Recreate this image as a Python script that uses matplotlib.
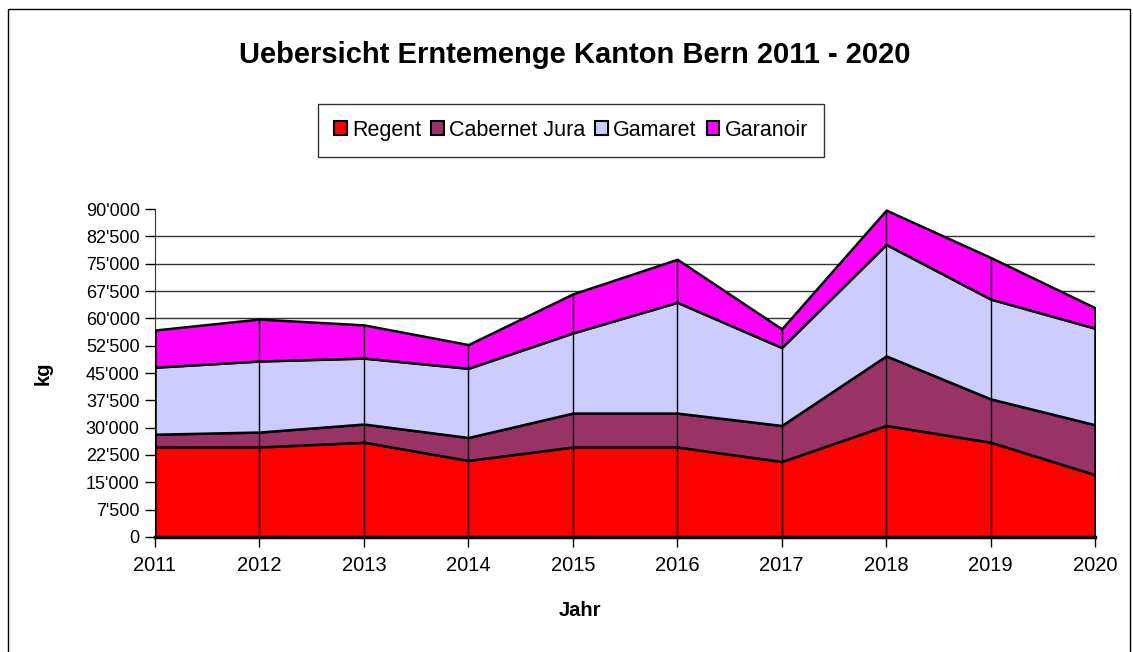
import matplotlib
matplotlib.use("Agg")
import matplotlib.pyplot as plt
import matplotlib.ticker as mticker
from matplotlib.patches import Rectangle

plt.rcParams["font.family"] = ["Liberation Sans", "DejaVu Sans"]

years = [2011, 2012, 2013, 2014, 2015, 2016, 2017, 2018, 2019, 2020]
regent = [24700, 24700, 26000, 21000, 24700, 24700, 20700, 30600, 26000, 17100]
cabernet_jura = [3500, 4100, 5000, 6300, 9300, 9300, 9900, 19100, 11900, 13700]
gamaret = [18400, 19500, 18100, 19000, 22000, 30400, 21400, 30600, 27400, 26500]
garanoir = [10200, 11500, 9100, 6500, 10700, 11800, 5100, 9400, 11400, 5600]

labels = ["Regent", "Cabernet Jura", "Gamaret", "Garanoir"]
colors = ["#FF0000", "#993366", "#CCCCFF", "#FF00FF"]
yticks = list(range(0, 90001, 7500))

fig = plt.figure(figsize=(11.33, 6.52), dpi=100)
ax = fig.add_axes([0.1368, 0.1764, 0.8297, 0.503])

# gridlines behind the areas (none at the very top)
for y in yticks[1:-1]:
    ax.axhline(y, color="#333333", lw=1, zorder=0)

polys = ax.stackplot(years, regent, cabernet_jura, gamaret, garanoir,
                     colors=colors, labels=labels, edgecolor="black",
                     linewidth=1.8, zorder=2)

totals = [a + b + c + d for a, b, c, d in zip(regent, cabernet_jura, gamaret, garanoir)]
ax.vlines(years, 0, totals, color="black", lw=1, zorder=3)

ax.set_xlim(years[0], years[-1])
ax.set_ylim(0, 90000)
ax.set_xticks(years)
ax.set_yticks(yticks)
ax.yaxis.set_major_formatter(mticker.FuncFormatter(
    lambda v, p: f"{int(v):,}".replace(",", "'")))
ax.tick_params(axis="both", direction="out", length=7,
               width=1, colors="black", pad=4)
ax.tick_params(axis="y", labelsize=13)
ax.tick_params(axis="x", labelsize=14.5, pad=7)

for s in ["top", "right"]:
    ax.spines[s].set_visible(False)
ax.spines["left"].set_color("#333333")
ax.spines["bottom"].set_linewidth(2.5)
ax.spines["bottom"].set_zorder(4)

ax.set_xlabel("Jahr", fontsize=14.5, fontweight="bold")
ax.xaxis.set_label_coords(0.452, -0.195)
ax.set_ylabel("kg", fontsize=14.5, fontweight="bold", labelpad=24)

fig.text(0.507, 0.915, "Uebersicht Erntemenge Kanton Bern 2011 - 2020",
         ha="center", va="center", fontsize=21, fontweight="bold")

leg = fig.legend(handles=polys, labels=labels, loc="center",
                 bbox_to_anchor=(0.504, 0.80), ncol=4, fontsize=15.5,
                 frameon=True, fancybox=False, edgecolor="black",
                 handlelength=0.6, handleheight=0.6, handletextpad=0.25,
                 columnspacing=0.45, borderpad=0.75, borderaxespad=0)
leg.get_frame().set_linewidth(1)
for h in leg.legend_handles:
    h.set_linewidth(1.5)

# outer chart frame
fig.patches.append(Rectangle((0.007, -0.01), 0.99, 0.996, transform=fig.transFigure,
                             fill=False, edgecolor="black", lw=1))

fig.savefig("out.png", dpi=100)
